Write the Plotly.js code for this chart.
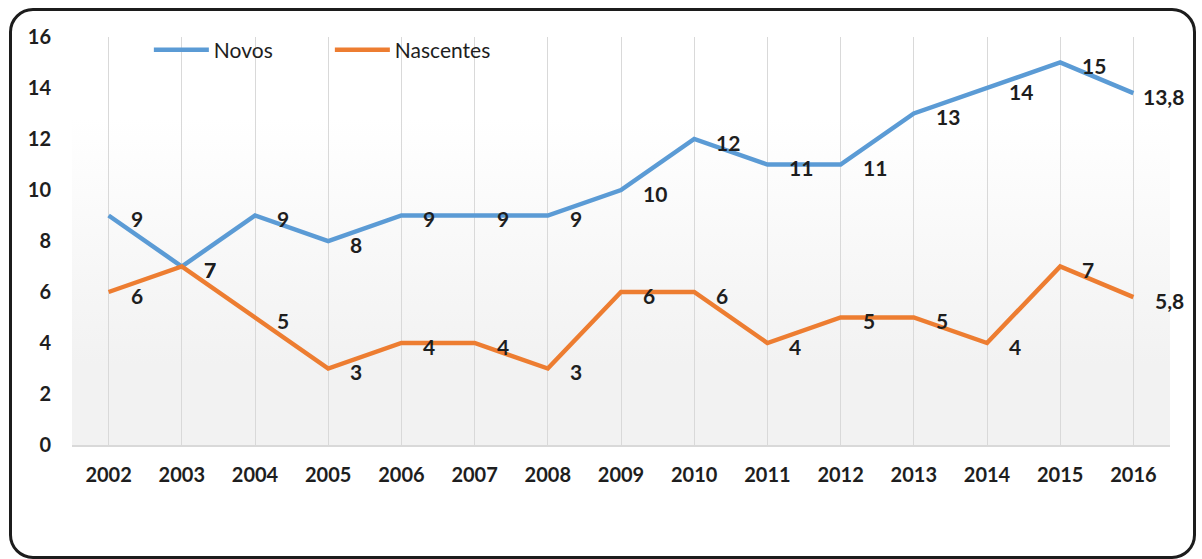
<!DOCTYPE html>
<html>
<head>
<meta charset="utf-8">
<script src="https://cdn.plot.ly/plotly-3.0.1.min.js"></script>
<style>
  html, body { margin: 0; padding: 0; background: #ffffff; }
  #wrap { position: relative; width: 1202px; height: 559px; overflow: hidden; }
  #chart { position: absolute; left: 0; top: 0; width: 1202px; height: 559px; }
  #frame {
    position: absolute; left: 9px; top: 8px; width: 1181px; height: 545px;
    border: 3px solid #1c1c1c; border-radius: 24px; pointer-events: none;
  }
</style>
</head>
<body>
<div id="wrap">
  <div id="chart"></div>
  <div id="frame"></div>
</div>
<script>
const years = ['2002','2003','2004','2005','2006','2007','2008','2009','2010','2011','2012','2013','2014','2015','2016'];
const novos = [9, 7, 9, 8, 9, 9, 9, 10, 12, 11, 11, 13, 14, 15, 13.8];
const nascentes = [6, 7, 5, 3, 4, 4, 3, 6, 6, 4, 5, 5, 4, 7, 5.8];
const seriesNames = ['Novos', 'Nascentes'];
const yTicks = [0, 2, 4, 6, 8, 10, 12, 14, 16];

const BLUE = '#5b9bd5';
const ORANGE = '#ed7d31';
const TXT = '#1e1e1e';
const FONT = 'Lato, "Open Sans", sans-serif';

const fmt = v => String(v).replace('.', ',');

const traces = [
  { x: years, y: novos, name: seriesNames[0], type: 'scatter', mode: 'lines',
    line: { color: BLUE, width: 4.5 }, hoverinfo: 'skip' },
  { x: years, y: nascentes, name: seriesNames[1], type: 'scatter', mode: 'lines',
    line: { color: ORANGE, width: 4.5 }, hoverinfo: 'skip' }
];

const annotations = [];
[novos, nascentes].forEach((arr, si) => {
  arr.forEach((v, i) => {
    const last = (i === arr.length - 1);
    annotations.push({
      x: i, y: v, xref: 'x', yref: 'y',
      text: fmt(v), showarrow: false,
      xanchor: 'left', yanchor: 'middle',
      xshift: (last && si === 0) ? 8 : 20, yshift: -3,
      font: { family: FONT, size: 21, color: TXT, weight: 'bold' }
    });
  });
});

const svg = "<svg xmlns='http://www.w3.org/2000/svg' width='10' height='100' viewBox='0 0 10 100' preserveAspectRatio='none'>" +
  "<defs><linearGradient id='g' x1='0' y1='0' x2='0' y2='1'>" +
  "<stop offset='0' stop-color='#ffffff'/><stop offset='0.2' stop-color='#ffffff'/>" +
  "<stop offset='0.8' stop-color='#f2f2f2'/><stop offset='1' stop-color='#f2f2f2'/>" +
  "</linearGradient></defs><rect x='0' y='0' width='10' height='100' fill='url(#g)'/></svg>";
const bgSrc = 'data:image/svg+xml;charset=utf-8,' + encodeURIComponent(svg);

const layout = {
  width: 1202, height: 559,
  margin: { l: 72, r: 32, t: 37, b: 114 },
  paper_bgcolor: 'rgba(0,0,0,0)',
  plot_bgcolor: 'rgba(0,0,0,0)',
  font: { family: FONT, color: TXT },
  showlegend: true,
  legend: {
    orientation: 'h', x: 0.07, y: 0.968, xanchor: 'left', yanchor: 'middle',
    bgcolor: 'rgba(0,0,0,0)', font: { family: FONT, size: 21, color: TXT },
    itemwidth: 55, entrywidth: 111, tracegroupgap: 0
  },
  xaxis: {
    type: 'category', range: [-0.5, 14.5], fixedrange: true,
    showgrid: true, gridcolor: '#d9d9d9', gridwidth: 1,
    showline: true, linecolor: '#d9d9d9', linewidth: 1.5,
    ticks: '', ticklabelstandoff: 11,
    tickfont: { family: FONT, size: 20, color: TXT, weight: 'bold' }
  },
  yaxis: {
    range: [0, 16], fixedrange: true,
    tickvals: yTicks, ticktext: yTicks.map(String),
    showgrid: false, zeroline: false, showline: false,
    ticks: '', ticklabelstandoff: 20,
    tickfont: { family: FONT, size: 20, color: TXT, weight: 'bold' }
  },
  images: [{
    source: bgSrc, xref: 'paper', yref: 'paper', x: 0, y: 1,
    sizex: 1, sizey: 1, sizing: 'stretch', xanchor: 'left', yanchor: 'top', layer: 'below'
  }],
  annotations: annotations
};

Plotly.newPlot('chart', traces, layout, { displayModeBar: false, staticPlot: true });
</script>
</body>
</html>
